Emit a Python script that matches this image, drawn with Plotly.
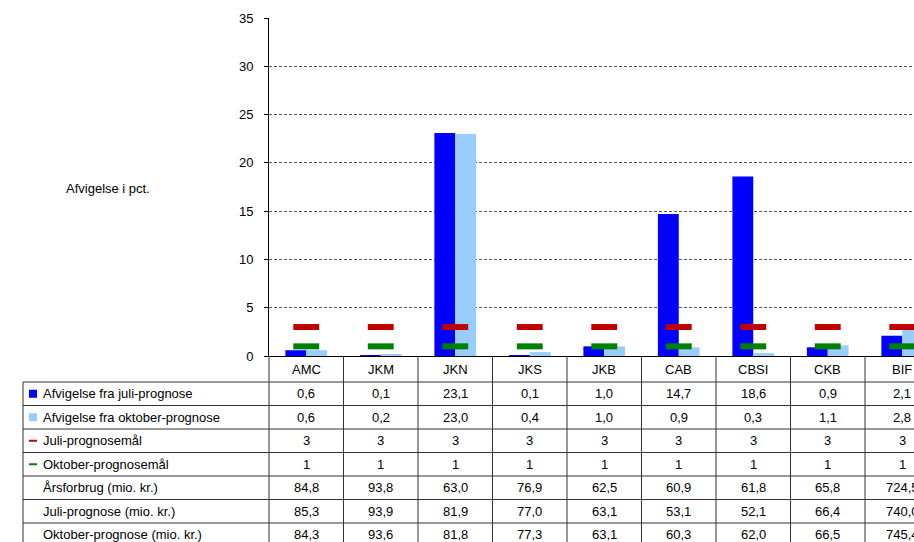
import plotly.graph_objects as go

categories = ["AMC", "JKM", "JKN", "JKS", "JKB", "CAB", "CBSI", "CKB", "BIF"]
afv_juli = [0.6, 0.1, 23.1, 0.1, 1.0, 14.7, 18.6, 0.9, 2.1]
afv_okt = [0.6, 0.2, 23.0, 0.4, 1.0, 0.9, 0.3, 1.1, 2.8]
juli_maal = [3, 3, 3, 3, 3, 3, 3, 3, 3]
okt_maal = [1, 1, 1, 1, 1, 1, 1, 1, 1]
aarsforbrug = [84.8, 93.8, 63.0, 76.9, 62.5, 60.9, 61.8, 65.8, 724.5]
juli_prognose = [85.3, 93.9, 81.9, 77.0, 63.1, 53.1, 52.1, 66.4, 740.0]
okt_prognose = [84.3, 93.6, 81.8, 77.3, 63.1, 60.3, 62.0, 66.5, 745.4]

row_labels = ["Afvigelse fra juli-prognose", "Afvigelse fra oktober-prognose",
              "Juli-prognosemål", "Oktober-prognosemål",
              "Årsforbrug (mio. kr.)", "Juli-prognose (mio. kr.)",
              "Oktober-prognose (mio. kr.)"]

C_BLUE = "#0000FF"
C_LBLUE = "#99CCFF"
C_RED = "#C00000"
C_GREEN = "#008000"
FONT = "Liberation Sans, Arial, sans-serif"

W, H = 914, 542
ML, MR, MT, MB = 269, 0, 18, 186
PW = W - ML - MR
PH = H - MT - MB
CATW = 74.5
X0 = -0.5
X1 = X0 + PW / CATW


def fmt(v):
    if isinstance(v, int):
        return str(v)
    return f"{v:.1f}".replace(".", ",")


def xp_cat(c):
    return (c - X0) / (X1 - X0)


def xp_px(px):
    return (px - ML) / PW


def yp_px(py):
    return (MT + PH - py) / PH


fig = go.Figure()
fig.add_trace(go.Bar(x=list(range(len(categories))), y=afv_juli, marker_color=C_BLUE,
                     marker_line_width=0, name=row_labels[0]))
fig.add_trace(go.Bar(x=list(range(len(categories))), y=afv_okt, marker_color=C_LBLUE,
                     marker_line_width=0, name=row_labels[1]))
fig.add_trace(go.Scatter(x=list(range(len(categories))), y=juli_maal, mode="markers",
                         marker=dict(symbol="line-ew", size=18.5,
                                     line=dict(width=6, color=C_RED)),
                         name=row_labels[2]))
fig.add_trace(go.Scatter(x=list(range(len(categories))), y=okt_maal, mode="markers",
                         marker=dict(symbol="line-ew", size=18.5,
                                     line=dict(width=6, color=C_GREEN)),
                         name=row_labels[3]))

shapes = []
annotations = []
LINE = "#333333"

# table geometry (pixels)
header_top = MT + PH
header_bot = 382
row_h = 23.5
n_rows = len(row_labels)
table_bot = header_bot + row_h * n_rows
left_px = 23

# vertical lines at category boundaries
for k in range(len(categories) + 1):
    xb = xp_cat(k - 0.5)
    shapes.append(dict(type="line", xref="paper", yref="paper",
                       x0=xb, x1=xb, y0=yp_px(header_top), y1=yp_px(table_bot),
                       line=dict(color=LINE, width=1)))
# left border of legend column
shapes.append(dict(type="line", xref="paper", yref="paper",
                   x0=xp_px(left_px), x1=xp_px(left_px),
                   y0=yp_px(header_bot), y1=yp_px(table_bot),
                   line=dict(color=LINE, width=1)))
# horizontal lines
for r in range(n_rows + 1):
    yy = yp_px(header_bot + r * row_h)
    shapes.append(dict(type="line", xref="paper", yref="paper",
                       x0=xp_px(left_px), x1=1.05, y0=yy, y1=yy,
                       line=dict(color=LINE, width=1)))

# category header labels
for i, c in enumerate(categories):
    annotations.append(dict(x=xp_cat(i), y=yp_px((header_top + header_bot) / 2),
                            xref="paper", yref="paper", text=c, showarrow=False,
                            font=dict(size=13, color="#000", family=FONT),
                            xanchor="center", yanchor="middle"))

rows = [afv_juli, afv_okt, juli_maal, okt_maal, aarsforbrug, juli_prognose, okt_prognose]
for r, (lab, vals) in enumerate(zip(row_labels, rows)):
    yc = header_bot + r * row_h + row_h / 2
    annotations.append(dict(x=xp_px(41), y=yp_px(yc), xref="paper", yref="paper",
                            text=lab, showarrow=False, xanchor="left", yanchor="middle",
                            font=dict(size=13, color="#000", family=FONT)))
    for i, v in enumerate(vals):
        annotations.append(dict(x=xp_cat(i), y=yp_px(yc), xref="paper", yref="paper",
                                text=fmt(v), showarrow=False, xanchor="center",
                                yanchor="middle",
                                font=dict(size=13, color="#000", family=FONT)))
    # legend keys
    if r < 2:
        col = C_BLUE if r == 0 else C_LBLUE
        shapes.append(dict(type="rect", xref="paper", yref="paper",
                           x0=xp_px(29), x1=xp_px(37), y0=yp_px(yc - 4), y1=yp_px(yc + 4),
                           fillcolor=col, line=dict(width=0)))
    elif r < 4:
        col = C_RED if r == 2 else C_GREEN
        shapes.append(dict(type="line", xref="paper", yref="paper",
                           x0=xp_px(29), x1=xp_px(37), y0=yp_px(yc), y1=yp_px(yc),
                           line=dict(color=col, width=2)))

annotations.append(dict(x=xp_px(108), y=yp_px(188), xref="paper", yref="paper",
                        text="Afvigelse i pct.", showarrow=False, xanchor="center",
                        yanchor="middle", font=dict(size=13, color="#000", family=FONT)))

fig.update_layout(
    width=W, height=H,
    margin=dict(l=ML, r=MR, t=MT, b=MB, pad=0),
    plot_bgcolor="white", paper_bgcolor="white",
    barmode="group", bargap=0.44, bargroupgap=0,
    showlegend=False,
    font=dict(family=FONT, size=13, color="#000"),
    shapes=shapes, annotations=annotations,
    xaxis=dict(range=[X0, X1], showticklabels=False, ticks="", showgrid=False,
               zeroline=False, showline=True, linecolor="#000", linewidth=1,
               fixedrange=True),
    yaxis=dict(range=[0, 35], dtick=5, tick0=0, showline=True, linecolor="#000",
               linewidth=1, ticks="outside", ticklen=4, tickcolor="#000",
               showgrid=True, gridcolor="#555555", griddash="3px,2px", gridwidth=1,
               zeroline=False, tickfont=dict(size=13, family=FONT, color="#000"),
               ticklabelstandoff=8, fixedrange=True),
)

fig.write_html(
    "out.html",
    config={"displayModeBar": False},
    post_script="document.body.style.margin='0';document.body.style.padding='0';"
                "document.body.style.overflow='hidden';",
)
